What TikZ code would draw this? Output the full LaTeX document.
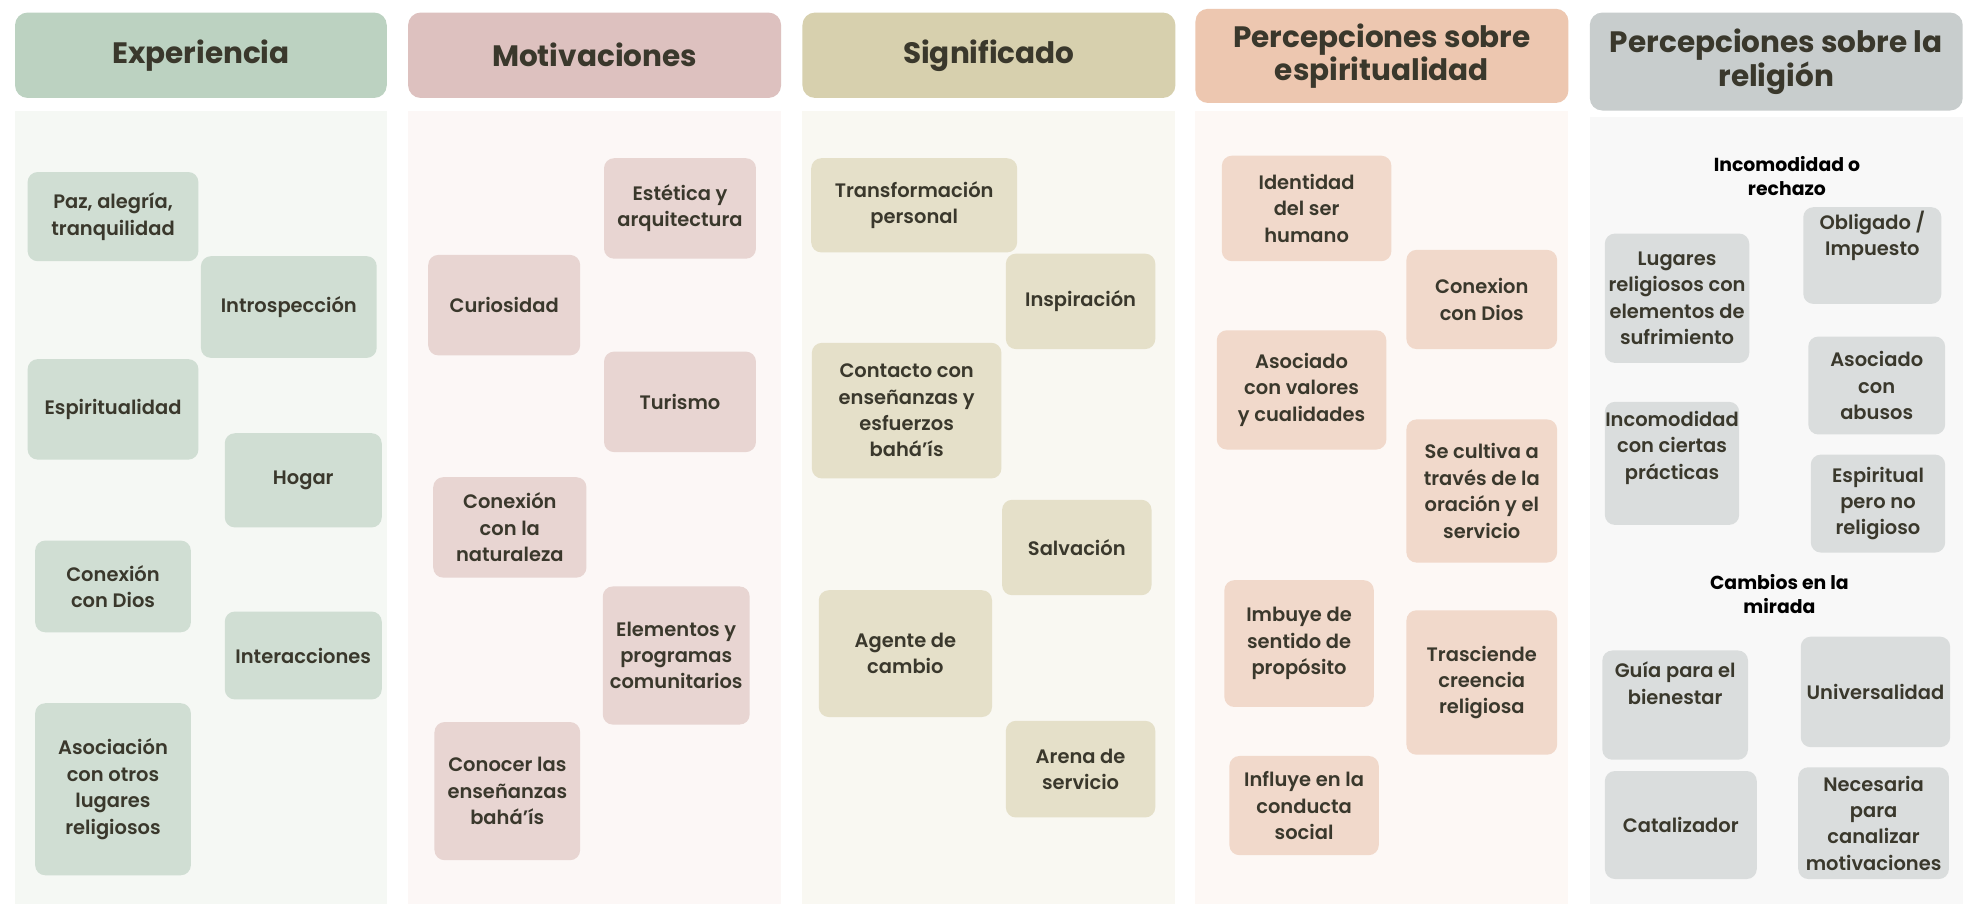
\documentclass[tikz,border=0pt]{standalone}
\usepackage{fontspec}
\setmainfont{Poppins SemiBold}
\newfontfamily\hdrfont{Poppins Bold}
\definecolor{txt}{HTML}{3A382C}
\definecolor{hA}{HTML}{BCD2C1}\definecolor{bA}{HTML}{D0DED3}\definecolor{pA}{HTML}{F5F8F4}
\definecolor{hB}{HTML}{DDC1BF}\definecolor{bB}{HTML}{E8D5D2}\definecolor{pB}{HTML}{FCF7F6}
\definecolor{hC}{HTML}{D7D0AE}\definecolor{bC}{HTML}{E5E0C9}\definecolor{pC}{HTML}{F9F8F2}
\definecolor{hD}{HTML}{EDC7B0}\definecolor{bD}{HTML}{F1D9CB}\definecolor{pD}{HTML}{FDF8F5}
\definecolor{hE}{HTML}{C8CDCD}\definecolor{bE}{HTML}{DADDDD}\definecolor{pE}{HTML}{F8F8F8}
\tikzset{
  hdr/.style={rounded corners=10pt, inner sep=0pt, text=txt, align=center,
    font=\hdrfont\fontsize{23.5}{25}\selectfont},
  bx/.style={rounded corners=8pt, inner sep=0pt, text=txt, align=center,
    font=\fontsize{15.5}{21}\selectfont},
  sub/.style={inner sep=0pt, text=black, align=center,
    font=\hdrfont\fontsize{15}{19}\selectfont},
  sz/.style n args={2}{minimum width=#1pt, minimum height=#2pt}
}
\begin{document}
\begin{tikzpicture}[x=1pt,y=-1pt]
\useasboundingbox[fill=white] (0,0) rectangle (1568,725);
% panels
\fill[pA] (12,88) rectangle (308,720);
\fill[pB] (325,88) rectangle (622,720);
\fill[pC] (639,88) rectangle (936,720);
\fill[pD] (952,88) rectangle (1249,720);
\fill[pE] (1266,93) rectangle (1563,720);
% headers
\node[hdr, fill=hA, sz={296}{68}] (h1) at (160,44) {Experiencia};
\node[hdr, fill=hB, sz={297}{68}] (h2) at (473.5,44) {Motivaciones};
\node[hdr, fill=hC, sz={297}{68}] (h3) at (787.5,44) {Significado};
\node[hdr, fill=hD, sz={297}{75}] (h4) at (1100.5,44.5) {Percepciones sobre\\espiritualidad};
\node[hdr, fill=hE, sz={297}{78}] (h5) at (1414.5,49) {Percepciones sobre la\\religión};
% column 1
\node[bx, fill=bA, sz={136}{71}] (a1) at (90,172.5) {Paz, alegría,\\tranquilidad};
\node[bx, fill=bA, sz={140}{81}] (a2) at (230,244.5) {Introspección};
\node[bx, fill=bA, sz={136}{80}] (a3) at (90,326) {Espiritualidad};
\node[bx, fill=bA, sz={125}{75}] (a4) at (241.5,382.5) {Hogar};
\node[bx, fill=bA, sz={124}{73}] (a5) at (90,467) {Conexión\\con Dios};
\node[bx, fill=bA, sz={125}{70}] (a6) at (241.5,522) {Interacciones};
\node[bx, fill=bA, sz={124}{137}] (a7) at (90,628.5) {Asociación\\con otros\\lugares\\religiosos};
% column 2
\node[bx, fill=bB, sz={121}{80}] (b1) at (541.5,166) {Estética y\\arquitectura};
\node[bx, fill=bB, sz={121}{80}] (b2) at (401.5,243) {Curiosidad};
\node[bx, fill=bB, sz={121}{80}] (b3) at (541.5,320) {Turismo};
\node[bx, fill=bB, sz={122}{80}] (b4) at (406,420) {Conexión\\con la\\naturaleza};
\node[bx, fill=bB, sz={117}{110}] (b5) at (538.5,522) {Elementos y\\programas\\comunitarios};
\node[bx, fill=bB, sz={116}{110}] (b6) at (404,630) {Conocer las\\enseñanzas\\bahá’ís};
% column 3
\node[bx, fill=bC, sz={164}{75}] (c1) at (728,163.5) {Transformación\\personal};
\node[bx, fill=bC, sz={119}{76}] (c2) at (860.5,240) {Inspiración};
\node[bx, fill=bC, sz={151}{108}] (c3) at (722,327) {Contacto con\\enseñanzas y\\esfuerzos\\bahá’ís};
\node[bx, fill=bC, sz={119}{76}] (c4) at (857.5,436) {Salvación};
\node[bx, fill=bC, sz={138}{101}] (c5) at (721,520.5) {Agente de\\cambio};
\node[bx, fill=bC, sz={119}{77}] (c6) at (860.5,612.5) {Arena de\\servicio};
% column 4
\node[bx, fill=bD, sz={135}{84}] (d1) at (1040.5,166) {Identidad\\del ser\\humano};
\node[bx, fill=bD, sz={120}{79}] (d2) at (1180,238.5) {Conexion\\con Dios};
\node[bx, fill=bD, sz={135}{95}] (d3) at (1036.5,310.5) {Asociado\\con valores\\y cualidades};
\node[bx, fill=bD, sz={120}{114}] (d4) at (1180,391) {Se cultiva a\\través de la\\oración y el\\servicio};
\node[bx, fill=bD, sz={119}{101}] (d5) at (1034.5,512.5) {Imbuye de\\sentido de\\propósito};
\node[bx, fill=bD, sz={120}{115}] (d6) at (1180,543.5) {Trasciende\\creencia\\religiosa};
\node[bx, fill=bD, sz={119}{79}] (d7) at (1038.5,641.5) {Influye en la\\conducta\\social};
% column 5
\node[sub] (l1) at (1423,140) {Incomodidad o\\rechazo};
\node[bx, fill=bE, sz={115}{103}] (e1) at (1335.5,237.5) {Lugares\\religiosos con\\elementos de\\sufrimiento};
\node[bx, fill=bE, sz={110}{77}] (e2) at (1491,203.5) {Obligado /\\Impuesto\\[14pt]};
\node[bx, fill=bE, sz={109}{78}] (e3) at (1494.5,307) {Asociado\\con\\abusos};
\node[bx, fill=bE, sz={107}{98}] (e4) at (1331.5,369) {Incomodidad\\con ciertas\\prácticas\\[8pt]};
\node[bx, fill=bE, sz={107}{78}] (e5) at (1495.5,401) {Espiritual\\pero no\\religioso};
\node[sub] (l2) at (1417,473) {Cambios en la\\mirada};
\node[bx, fill=bE, sz={116}{87}] (e6) at (1334,561.5) {Guía para el\\bienestar\\[14pt]};
\node[bx, fill=bE, sz={119}{88}] (e7) at (1493.5,551) {Universalidad};
\node[bx, fill=bE, sz={121}{86}] (e8) at (1338.5,657) {Catalizador};
\node[bx, fill=bE, sz={120}{89}] (e9) at (1492,655.5) {Necesaria\\para\\canalizar\\motivaciones};
\end{tikzpicture}
\end{document}
